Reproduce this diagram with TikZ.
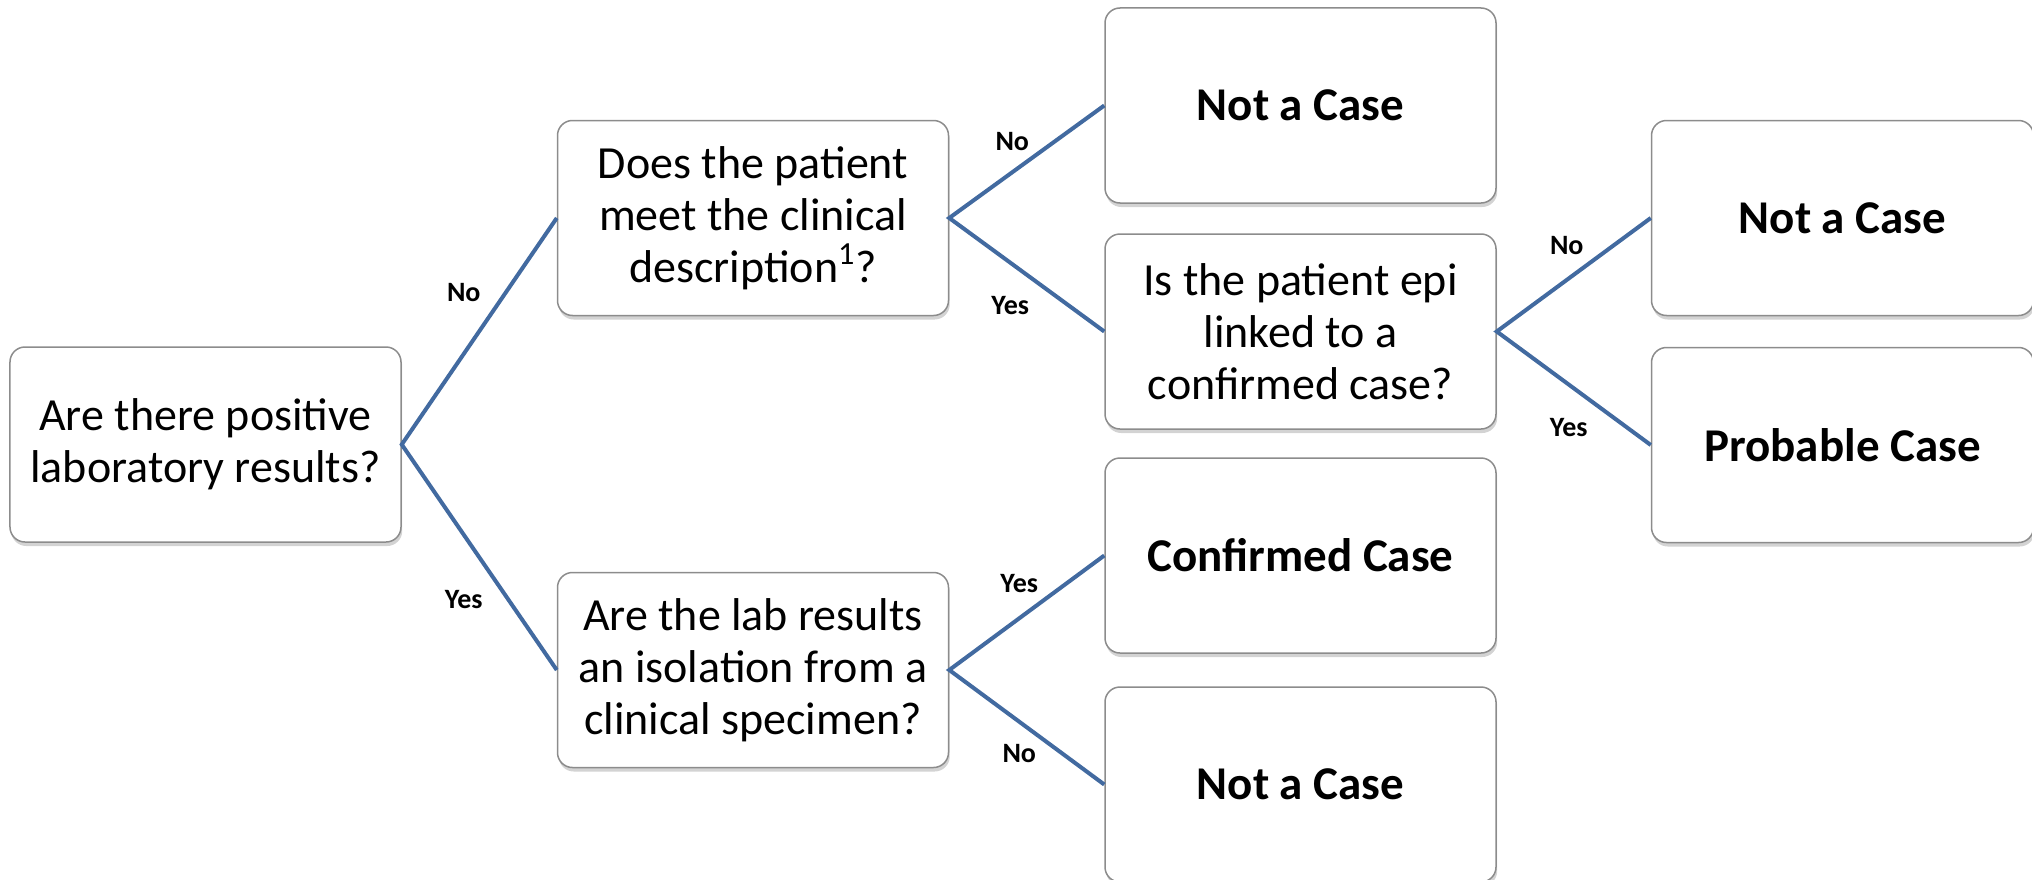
\documentclass[tikz,border=0pt]{standalone}
\usepackage{fontspec}
\setmainfont{Carlito}
\usetikzlibrary{positioning, shadows}
\definecolor{linkblue}{RGB}{66,106,160}
\definecolor{boxgray}{RGB}{140,140,140}
\tikzstyle{question} = [rectangle, rounded corners=7.5pt, minimum width=195.5pt, minimum height=97.5pt, align=center, draw=boxgray, line width=0.75pt, fill=white, drop shadow={shadow xshift=0.6pt, shadow yshift=-2pt, opacity=0.35}, font=\fontsize{23}{26}\selectfont]
\tikzstyle{outcome} = [question, font=\fontsize{23.5}{27}\selectfont\bfseries]
\tikzstyle{link} = [linkblue, line width=2pt]
\tikzstyle{answer} = [font=\fontsize{14}{16}\selectfont\bfseries]

\begin{document}
\begin{tikzpicture}

	% Fixed frame - - - - - - - - - - - - - - - - - - - - - - - - - - - - - - -
	\useasboundingbox (-102.75pt,-217.25pt) rectangle (913.25pt,222.25pt);

	% Questions - - - - - - - - - - - - - - - - - - - - - - - - - - - - - - - -
	
	%Positive lab results
	\node(labres) [question] at (0,0)
		{Are there positive\\laboratory results?};
	%Clinical description
	\node(clin) [question, above right= 15pt and 77.5pt of labres]
		{Does the patient\\meet the clinical\\description\textsuperscript{1}?};
	%Isolation
	\node(iso) [question, below right= 14.5pt and 77.5pt of labres]
		{Are the lab results\\an isolation from a\\clinical specimen?};
	%Epi link
	\node(epi) [question, below right= -41.5pt and 77.5pt of clin]
		{Is the patient epi\\linked to a\\confirmed case?};

	% Outcomes - - - - - - - - - - - - - - - - - - - - - - - - - - - - - - - -
	\node(notclin) [outcome, above right= -42pt and 77.5pt of clin]{Not a Case};
	\node(confirmed) [outcome, above right= -41pt and 77.5pt of iso]{Confirmed Case};
	\node(notiso) [outcome, below right= -41pt and 77.5pt of iso]{Not a Case};
	\node(notepi) [outcome, above right= -41.5pt and 77pt of epi, minimum width=191pt]{Not a Case};
	\node(probable) [outcome, below right= -41.5pt and 77pt of epi, minimum width=191pt]{Probable Case};

	% Connectors - - - - - - - - - - - - - - - - - - - - - - - - - - - - - - -
	\draw[link](clin.west)--(labres.east)--(iso.west);
	\draw[link](notclin.west)--(clin.east)--(epi.west);
	\draw[link](confirmed.west)--(iso.east)--(notiso.west);
	\draw[link](notepi.west)--(epi.east)--(probable.west);

	% Answers - - - - - - - - - - - - - - - - - - - - - - - - - - - - - - - -
	\node(a1) [answer] at ([shift={(-46.5pt,-37.5pt)}]clin.west){No};
	\node(a2) [answer] at ([shift={(-46.5pt,35pt)}]iso.west){Yes};
	\node(a3) [answer] at ([shift={(31.5pt,38pt)}]clin.east){No};
	\node(a4) [answer] at ([shift={(30.5pt,-44pt)}]clin.east){Yes};
	\node(a5) [answer] at ([shift={(35pt,43pt)}]iso.east){Yes};
	\node(a6) [answer] at ([shift={(35pt,-42pt)}]iso.east){No};
	\node(a7) [answer] at ([shift={(35pt,43pt)}]epi.east){No};
	\node(a8) [answer] at ([shift={(36pt,-48pt)}]epi.east){Yes};

\end{tikzpicture}
\end{document}
